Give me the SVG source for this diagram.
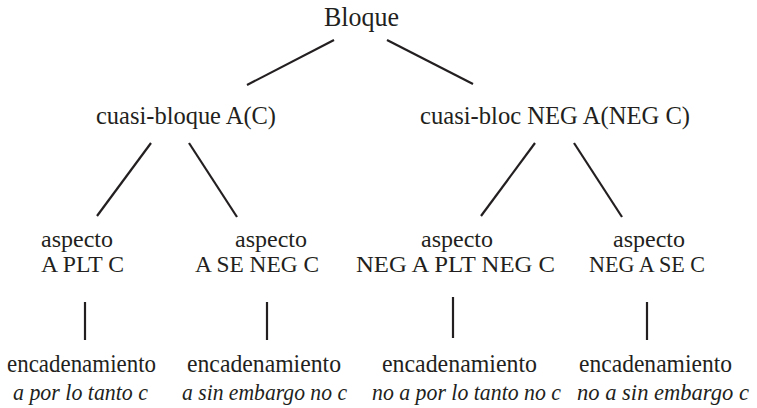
<svg xmlns="http://www.w3.org/2000/svg" width="757" height="408" viewBox="0 0 757 408">
<style>
text{font-family:'Liberation Serif',Tinos,'Times New Roman',Times,'DejaVu Serif',serif;font-size:26px;fill:#231f20}
.it{font-style:italic;font-size:23px}
.big{font-size:27px}
.mid{font-size:24px}
line{stroke:#231f20;stroke-width:2.2;stroke-linecap:butt}
</style>
<rect width="757" height="408" fill="#fff"/>
<g id="connectors">
<line x1="334" y1="40" x2="247" y2="85"/>
<line x1="387" y1="40" x2="473" y2="84"/>
<line x1="151" y1="143" x2="97" y2="216"/>
<line x1="189" y1="143" x2="237" y2="217"/>
<line x1="535" y1="143" x2="481" y2="216"/>
<line x1="574" y1="143" x2="622" y2="217"/>
<line x1="85" y1="302" x2="85" y2="340"/>
<line x1="267" y1="302" x2="267" y2="340"/>
<line x1="453" y1="297" x2="453" y2="338"/>
<line x1="647" y1="302" x2="647" y2="340"/>
</g>
<g id="bloque"><text class="big" x="324" y="26" textLength="75" lengthAdjust="spacingAndGlyphs">Bloque</text></g>
<g id="cuasi1"><text x="96" y="124" textLength="180" lengthAdjust="spacingAndGlyphs">cuasi-bloque A(C)</text></g>
<g id="cuasi2"><text x="420" y="124" textLength="270" lengthAdjust="spacingAndGlyphs">cuasi-bloc NEG A(NEG C)</text></g>
<g id="asp1"><text class="mid" x="41" y="247" textLength="72" lengthAdjust="spacingAndGlyphs">aspecto</text><text class="mid" x="41" y="272" textLength="83" lengthAdjust="spacingAndGlyphs">A PLT C</text></g>
<g id="asp2"><text class="mid" x="235" y="247" textLength="72" lengthAdjust="spacingAndGlyphs">aspecto</text><text class="mid" x="195" y="272" textLength="124" lengthAdjust="spacingAndGlyphs">A SE NEG C</text></g>
<g id="asp3"><text class="mid" x="421" y="247" textLength="72" lengthAdjust="spacingAndGlyphs">aspecto</text><text class="mid" x="356" y="272" textLength="199" lengthAdjust="spacingAndGlyphs">NEG A PLT NEG C</text></g>
<g id="asp4"><text class="mid" x="613" y="247" textLength="72" lengthAdjust="spacingAndGlyphs">aspecto</text><text class="mid" x="589" y="272" textLength="116" lengthAdjust="spacingAndGlyphs">NEG A SE C</text></g>
<g id="enc1"><text x="7" y="372" textLength="149" lengthAdjust="spacingAndGlyphs">encadenamiento</text><text class="it" x="13" y="400" textLength="135" lengthAdjust="spacingAndGlyphs">a por lo tanto c</text></g>
<g id="enc2"><text x="187" y="372" textLength="154" lengthAdjust="spacingAndGlyphs">encadenamiento</text><text class="it" x="182" y="400" textLength="165" lengthAdjust="spacingAndGlyphs">a sin embargo no c</text></g>
<g id="enc3"><text x="382" y="372" textLength="155" lengthAdjust="spacingAndGlyphs">encadenamiento</text><text class="it" x="372" y="400" textLength="189" lengthAdjust="spacingAndGlyphs">no a por lo tanto no c</text></g>
<g id="enc4"><text x="579" y="372" textLength="153" lengthAdjust="spacingAndGlyphs">encadenamiento</text><text class="it" x="577" y="400" textLength="172" lengthAdjust="spacingAndGlyphs">no a sin embargo c</text></g>
</svg>
